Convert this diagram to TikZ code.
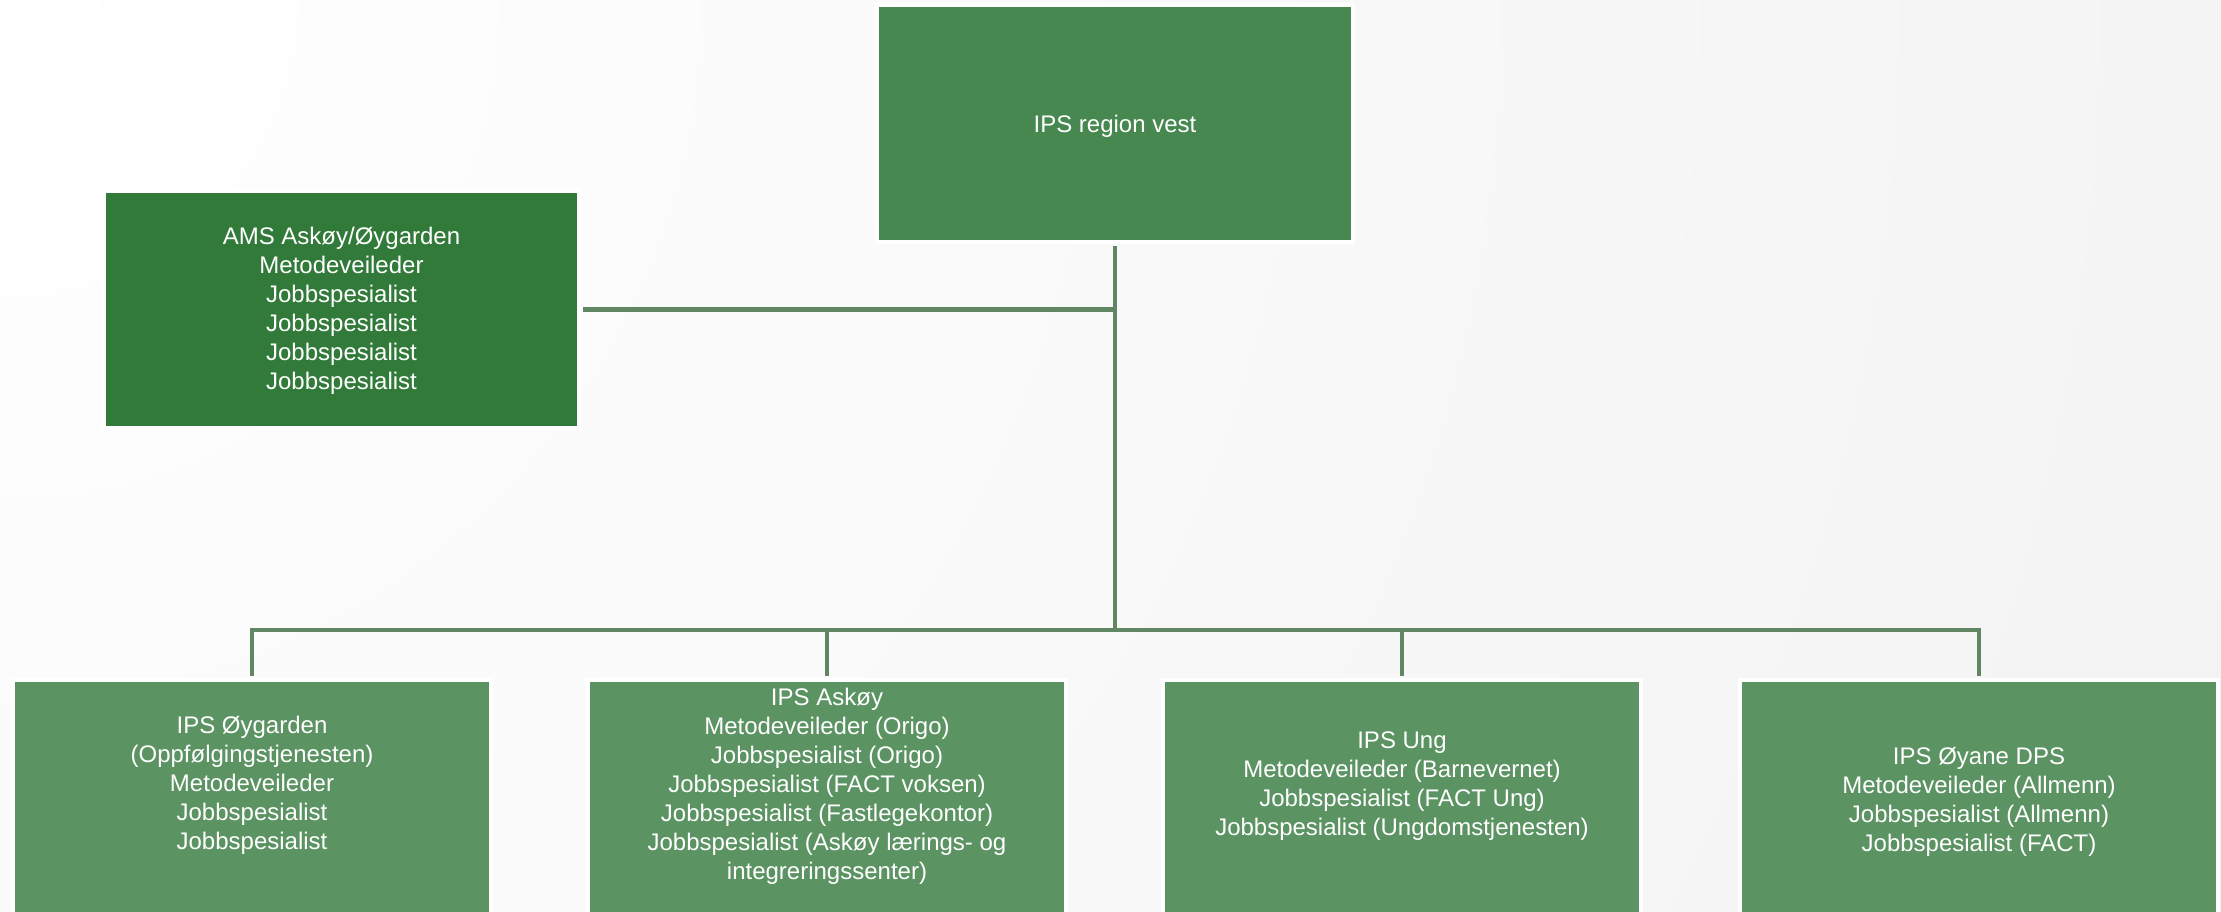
\documentclass[tikz,border=0pt]{standalone}
\usepackage{fontspec}
\setmainfont{Liberation Sans}
\definecolor{topgreen}{RGB}{70,136,80}
\definecolor{amsgreen}{RGB}{49,122,58}
\definecolor{botgreen}{RGB}{91,147,98}
\definecolor{linkgreen}{RGB}{96,134,100}
\definecolor{bgfar}{RGB}{231,231,231}
\pgfdeclareradialshading{bgrad}{\pgfpoint{0bp}{0bp}}{color(0bp)=(white); color(50bp)=(bgfar)}
\begin{document}
\begin{tikzpicture}[x=1pt,y=-1pt,
  box/.style={rectangle, draw=white, line width=4pt, inner sep=0pt, minimum width=476pt, minimum height=237pt},
  lbl/.style={text=white, align=center, font=\fontsize{24}{29}\selectfont, inner sep=0pt},
  link/.style={draw=linkgreen, line width=4.5pt}]
\useasboundingbox (0,0) rectangle (2221,912);
\begin{scope}
\clip (0,0) rectangle (2221,912);
\shade[shading=bgrad] (0,0) circle (2400pt);
\node[box, fill=topgreen] (top) at (1115,123.5) {};
\node[box, fill=amsgreen, minimum width=475pt] (ams) at (341.5,309.5) {};
\node[box, fill=botgreen, minimum width=478pt, minimum height=300pt] (oyg) at (252,830) {};
\node[box, fill=botgreen, minimum width=478pt, minimum height=300pt] (ask) at (827,830) {};
\node[box, fill=botgreen, minimum width=478pt, minimum height=300pt] (ung) at (1402,830) {};
\node[box, fill=botgreen, minimum width=478pt, minimum height=300pt] (dps) at (1979,830) {};
\end{scope}
\node[lbl] (toptxt) at (1115,126) {IPS region vest};
\node[lbl] (amstxt) at (341.5,311) {AMS Askøy/Øygarden\\Metodeveileder\\Jobbspesialist\\Jobbspesialist\\Jobbspesialist\\Jobbspesialist};
\node[lbl] (oygtxt) at (252,785) {IPS Øygarden\\(Oppfølgingstjenesten)\\Metodeveileder\\Jobbspesialist\\Jobbspesialist};
\node[lbl] (asktxt) at (827,786.5) {IPS Askøy\\Metodeveileder (Origo)\\Jobbspesialist (Origo)\\Jobbspesialist (FACT voksen)\\Jobbspesialist (Fastlegekontor)\\Jobbspesialist (Askøy lærings- og\\integreringssenter)};
\node[lbl] (ungtxt) at (1402,786) {IPS Ung\\Metodeveileder (Barnevernet)\\Jobbspesialist (FACT Ung)\\Jobbspesialist (Ungdomstjenesten)};
\node[lbl] (dpstxt) at (1979,802) {IPS Øyane DPS\\Metodeveileder (Allmenn)\\Jobbspesialist (Allmenn)\\Jobbspesialist (FACT)};
\coordinate (bus) at (1115,630);
\draw[link, shorten <=2pt] (top.south) -- (bus);
\draw[link, shorten <=2pt] (ams.east) -- (ams.east -| top.south);
\draw[link, shorten >=2pt] (bus) -| (oyg.north);
\draw[link, shorten >=2pt] (bus) -| (ask.north);
\draw[link, shorten >=2pt] (bus) -| (ung.north);
\draw[link, shorten >=2pt] (bus) -| (dps.north);
\end{tikzpicture}
\end{document}
